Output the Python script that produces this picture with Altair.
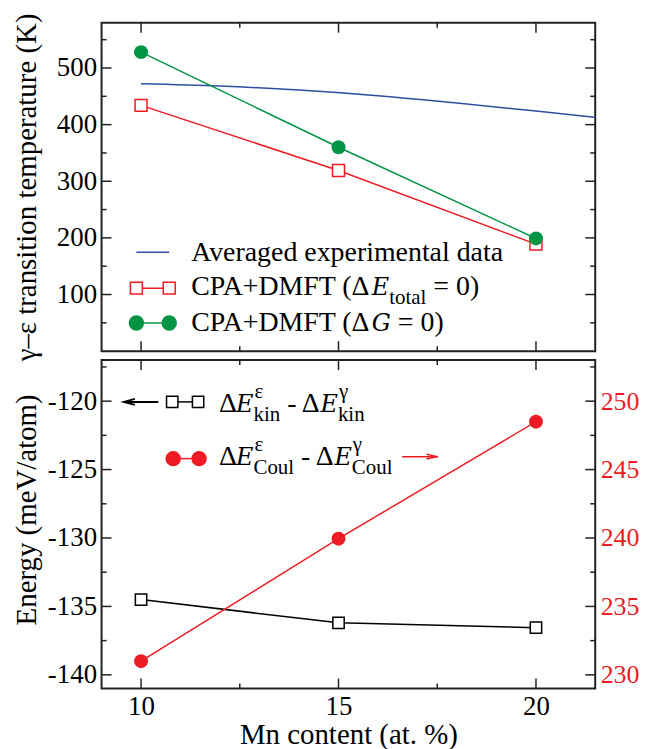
import altair as alt
import pandas as pd

# ---------------- data ----------------
mn = [10, 15, 20]
t_total = [434, 319, 189]          # CPA+DMFT (dE_total = 0)
t_gibbs = [528, 360, 199]          # CPA+DMFT (dG = 0)
exp_x = [10, 12, 14, 16, 18, 20, 21.5]
exp_t = [472, 468, 461, 451, 438, 424, 413]   # averaged experimental data
e_kin = [-134.5, -136.2, -136.55]  # left axis
e_coul = [231.0, 239.95, 248.5]    # right axis

x_major = [10, 15, 20]
x_minor = [12.5, 17.5]
t_major = [100, 200, 300, 400, 500]
t_minor = [50, 150, 250, 350, 450, 550]
e_major = [-140, -135, -130, -125, -120]
e_minor = [-137.5, -132.5, -127.5, -122.5, -117.5]
c_major = [230, 235, 240, 245, 250]

# ---------------- style ----------------
W, H = 496, 330
FONT = "Liberation Serif"
IFONT = "DejaVu Serif"      # serif face that has an italic installed
RED = "#ed1c24"
GREEN = "#009444"
BLUE = "#2e4fa3"
DARK = "#222222"
LAB = 27
RLAB = 26
TIT = 29
LEG = 28
ILEG = 24
SUB = 21
MAJ, MIN = 10, 5

# approximate advance widths (em), used to chain legend text runs
WID = {"C": .667, "P": .556, "A": .722, "+": .564, "D": .722, "M": .889, "F": .556,
       "T": .611, " ": .25, "(": .333, ")": .333, "Δ": .612,
       "=": .564, "0": .5, "t": .278, "o": .5, "a": .444, "l": .278, "k": .5, "i": .278,
       "n": .5, "u": .5, "ε": .44, "γ": .45, "-": .333}
IWID = {"E": .73, "G": .80}


def tw(s, size, italic=False):
    table = IWID if italic else WID
    return sum(table.get(c, .5) for c in s) * size


xs = alt.Scale(domain=[9, 21.5], nice=False, zero=False)
ts = alt.Scale(domain=[0, 580], nice=False, zero=False)
es = alt.Scale(domain=[-141, -117], nice=False, zero=False)
cs = alt.Scale(domain=[229, 253], nice=False, zero=False)

dummy = pd.DataFrame({"d": [0]})


def txt(s, x, y, size=LEG, italic=False, color="black"):
    return alt.Chart(dummy).mark_text(
        text=s, align="left", baseline="alphabetic", font=IFONT if italic else FONT,
        fontSize=size, fontStyle="italic" if italic else "normal", color=color,
    ).encode(x=alt.value(x), y=alt.value(y))


def rich(x, y, runs):
    """runs: (text, kind) with kind n / i / sub / ss (superscript + subscript pair)."""
    out = []
    for text, kind in runs:
        if kind == "ss":
            sup, sub = text
            out.append(txt(sup, x + 1, y - 14, size=SUB))
            out.append(txt(sub, x, y + 9, size=SUB))
            x += max(tw(sup, SUB), tw(sub, SUB))
        elif kind == "sub":
            out.append(txt(text, x, y + 9, size=SUB))
            x += tw(text, SUB)
        elif kind == "i":
            out.append(txt(text, x, y, size=ILEG, italic=True))
            x += tw(text, ILEG, italic=True)
        else:
            lead = len(text) - len(text.lstrip(" "))
            x += tw(" " * lead, LEG)          # leading blanks are dropped when drawn
            body = text.lstrip(" ")
            out.append(txt(body, x, y))
            x += tw(body, LEG)
    return out


def seg(x1, x2, y, color, w=1.5):
    return alt.Chart(dummy).mark_rule(color=color, strokeWidth=w).encode(
        x=alt.value(x1), x2=alt.value(x2), y=alt.value(y))


def sym(x, y, shape, color, filled, size):
    return alt.Chart(dummy).mark_point(
        shape=shape, filled=True, fill=color if filled else "white", stroke=color,
        strokeWidth=1.5, size=size, opacity=1,
    ).encode(x=alt.value(x), y=alt.value(y))


def xticks(vals, length, axis):
    d = pd.DataFrame({"v": vals})
    b = alt.Chart(d).mark_rule(color=DARK, strokeWidth=1.5).encode(
        x=alt.X("v:Q", scale=xs, axis=axis), y=alt.value(H), y2=alt.value(H - length))
    t = alt.Chart(d).mark_rule(color=DARK, strokeWidth=1.5).encode(
        x=alt.X("v:Q", scale=xs, axis=axis), y=alt.value(0), y2=alt.value(length))
    return [b, t]


def yticks(vals, length, scale, axis):
    d = pd.DataFrame({"v": vals})
    l = alt.Chart(d).mark_rule(color=DARK, strokeWidth=1.5).encode(
        y=alt.Y("v:Q", scale=scale, axis=axis), x=alt.value(0), x2=alt.value(length))
    r = alt.Chart(d).mark_rule(color=DARK, strokeWidth=1.5).encode(
        y=alt.Y("v:Q", scale=scale, axis=axis), x=alt.value(W), x2=alt.value(W - length))
    return [l, r]


# ---------------- top panel ----------------
df_top = pd.DataFrame({"mn": mn, "total": t_total, "gibbs": t_gibbs})
df_exp = pd.DataFrame({"mn": exp_x, "t": exp_t})

ax_top = alt.Axis(
    values=t_major, ticks=False, domain=False, grid=False, labelFont=FONT, labelFontSize=LAB,
    labelColor="black", labelPadding=5, title="γ–ε transition temperature (K)",
    titleFont=FONT, titleFontSize=TIT, titleFontWeight="normal", titleColor="black",
    titleX=-66, titleY=H / 2, titleBaseline="alphabetic", titleAlign="center",
)
xt = alt.X("mn:Q", scale=xs, axis=None)

exp_line = alt.Chart(df_exp).mark_line(color=BLUE, strokeWidth=1.5, interpolate="monotone").encode(
    x=xt, y=alt.Y("t:Q", scale=ts, axis=ax_top))
tot_line = alt.Chart(df_top).mark_line(color=RED, strokeWidth=1.5).encode(
    x=xt, y=alt.Y("total:Q", scale=ts, axis=ax_top))
tot_pts = alt.Chart(df_top).mark_point(shape="square", filled=True, fill="white", stroke=RED,
                                       strokeWidth=1.5, size=144, opacity=1).encode(
    x=xt, y=alt.Y("total:Q", scale=ts, axis=ax_top))
gib_line = alt.Chart(df_top).mark_line(color=GREEN, strokeWidth=1.5).encode(
    x=xt, y=alt.Y("gibbs:Q", scale=ts, axis=ax_top))
gib_pts = alt.Chart(df_top).mark_point(shape="circle", filled=True, color=GREEN,
                                       size=196, opacity=1).encode(
    x=xt, y=alt.Y("gibbs:Q", scale=ts, axis=ax_top))

top_legend = [
    seg(35, 68, 230.7, BLUE),
    txt("Averaged experimental data", 90, 239.5),
    seg(35, 68, 266.7, RED),
    sym(35, 266.7, "square", RED, False, 144),
    sym(68, 266.7, "square", RED, False, 144),
    *rich(90, 274, [("CPA+DMFT (Δ", "n"), ("E", "i"), ("total", "sub"), (" = 0)", "n")]),
    seg(35, 68, 301.7, GREEN),
    sym(35, 301.7, "circle", GREEN, True, 196),
    sym(68, 301.7, "circle", GREEN, True, 196),
    *rich(90, 310, [("CPA+DMFT (Δ", "n"), ("G", "i"), (" = 0)", "n")]),
]

top = alt.layer(
    exp_line, tot_line, gib_line, tot_pts, gib_pts,
    *xticks(x_major, MAJ, None), *xticks(x_minor, MIN, None),
    *yticks(t_major, MAJ, ts, ax_top), *yticks(t_minor, MIN, ts, ax_top),
    *top_legend,
).properties(width=W, height=H)

# ---------------- bottom panel ----------------
df_bot = pd.DataFrame({"mn": mn, "kin": e_kin, "coul": e_coul})

ax_left = alt.Axis(
    values=e_major, labelExpr="'' + datum.value", ticks=False, domain=False, grid=False,
    labelFont=FONT, labelFontSize=LAB, labelColor="black", labelPadding=5,
    title="Energy (meV/atom)", titleFont=FONT, titleFontSize=TIT, titleFontWeight="normal",
    titleColor="black", titleX=-66, titleY=150, titleBaseline="alphabetic", titleAlign="center",
)
ax_right = alt.Axis(
    orient="right", values=c_major, ticks=False, domain=False, grid=False,
    labelFont=FONT, labelFontSize=RLAB, labelColor=RED, labelPadding=5, title=None,
)
ax_x = alt.Axis(
    values=x_major, ticks=False, domain=False, grid=False, labelFont=FONT, labelFontSize=LAB,
    labelColor="black", labelPadding=5, title="Mn content (at. %)", titleFont=FONT,
    titleFontSize=TIT, titleFontWeight="normal", titleColor="black", titlePadding=1,
)
xb = alt.X("mn:Q", scale=xs, axis=ax_x)

kin_line = alt.Chart(df_bot).mark_line(color="black", strokeWidth=1.5).encode(
    x=xb, y=alt.Y("kin:Q", scale=es, axis=ax_left))
kin_pts = alt.Chart(df_bot).mark_point(shape="square", filled=True, fill="white", stroke="black",
                                       strokeWidth=1.5, size=130, opacity=1).encode(
    x=xb, y=alt.Y("kin:Q", scale=es, axis=ax_left))
coul_line = alt.Chart(df_bot).mark_line(color=RED, strokeWidth=1.5).encode(
    x=xb, y=alt.Y("coul:Q", scale=cs, axis=ax_right))
coul_pts = alt.Chart(df_bot).mark_point(shape="circle", filled=True, color=RED,
                                        size=196, opacity=1).encode(
    x=xb, y=alt.Y("coul:Q", scale=cs, axis=ax_right))

arrow_left = alt.Chart(dummy).mark_point(shape="M1,-0.55L-1,0L1,0.55", filled=False, stroke="black",
                                         strokeWidth=2, size=120, opacity=1).encode(
    x=alt.value(28), y=alt.value(42))
arrow_right = alt.Chart(dummy).mark_point(shape="M-1,-0.45L1,0L-1,0.45", filled=False, stroke=RED,
                                          strokeWidth=1.5, size=120, opacity=1).encode(
    x=alt.value(332), y=alt.value(97))

bot_legend = [
    seg(23, 57, 42, "black", 2),
    arrow_left,
    seg(71, 97, 42, "black"),
    sym(71, 42, "square", "black", False, 130),
    sym(97, 42, "square", "black", False, 130),
    *rich(118, 52, [("Δ", "n"), ("E", "i"), (("ε", "kin"), "ss"), (" - Δ", "n"), ("E", "i"),
                    (("γ", "kin"), "ss")]),
    seg(72, 98, 99, RED),
    sym(72, 99, "circle", RED, True, 196),
    sym(98, 99, "circle", RED, True, 196),
    *rich(118, 105, [("Δ", "n"), ("E", "i"), (("ε", "Coul"), "ss"), (" - Δ", "n"), ("E", "i"),
                     (("γ", "Coul"), "ss")]),
    seg(302, 338, 97, RED, 1.5),
    arrow_right,
]

left_group = alt.layer(
    kin_line, kin_pts,
    *xticks(x_major, MAJ, ax_x), *xticks(x_minor, MIN, ax_x),
    *yticks(e_major, MAJ, es, ax_left), *yticks(e_minor, MIN, es, ax_left),
    *bot_legend,
)
right_group = alt.layer(coul_line, coul_pts)

bottom = alt.layer(left_group, right_group).resolve_scale(y="independent").properties(width=W, height=H)

chart = alt.vconcat(top, bottom, spacing=9, bounds="flush").properties(
    padding={"left": 3, "top": 2, "right": 0, "bottom": 0}
).configure_view(stroke=DARK, strokeWidth=2).configure_axis(grid=False)

chart.save("out.html", embed_options={"renderer": "svg", "actions": False})
